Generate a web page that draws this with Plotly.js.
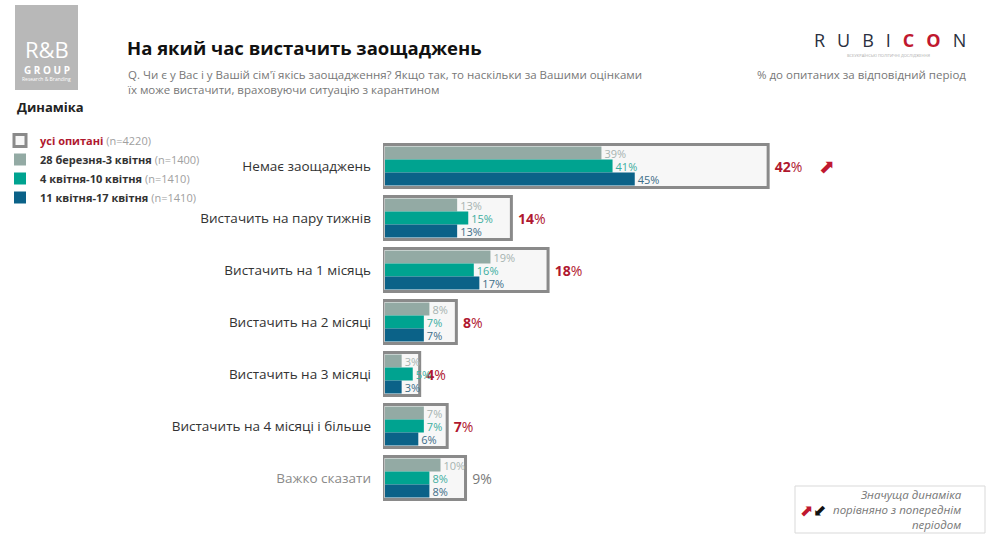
<!DOCTYPE html>
<html>
<head>
<meta charset="utf-8">
<script src="https://cdn.plot.ly/plotly-3.0.1.min.js"></script>
<style>html,body{margin:0;padding:0;background:#fff;}#chart{width:991px;height:536px;}</style>
</head>
<body>
<div id="chart"></div>
<script>
// ---- data ----
const categories = [
  "Немає заощаджень",
  "Вистачить на пару тижнів",
  "Вистачить на 1 місяць",
  "Вистачить на 2 місяці",
  "Вистачить на 3 місяці",
  "Вистачить на 4 місяці і більше",
  "Важко сказати"
];
const totalAll = [42, 14, 18, 8, 4, 7, 9];
const wave1 = [39, 13, 19, 8, 3, 7, 10];
const wave2 = [41, 15, 16, 7, 5, 7, 8];
const wave3 = [45, 13, 17, 7, 3, 6, 8];
const seriesNames = [
  "усі опитані",
  "28 березня-3 квітня",
  "4 квітня-10 квітня",
  "11 квітня-17 квітня"
];
const seriesN = ["(n=4220)", "(n=1400)", "(n=1410)", "(n=1410)"];

// ---- geometry helpers ----
const W = 991, H = 536;
const L = 383, R = 8, T = 140, B = 32;
const PW = W - L - R, PH = H - T - B;
const px = x => (x - L) / PW;
const py = y => 1 - (y - T) / PH;

const FONT = "Open Sans, Roboto, sans-serif";
const ARROWFONT = "DejaVu Sans, sans-serif";
const RED = "#b0182f";
const GREY = "#8a8a8a";
const colors = ["#93aaa4", "#00a390", "#0b6288"];
const labelColors = ["#a6b3b0", "#3cae9f", "#3d6d88"];

const totalText = totalAll.map((v, i) => i === categories.length - 1 ? "\u00a0" + v + "%" : "\u00a0<b>" + v + "</b>%");
const totalColors = totalAll.map((v, i) => i === categories.length - 1 ? "#7a7a7a" : RED);

const legendName = (i, c) => '<span style="color:' + c + '"><b>' + seriesNames[i] + '</b></span> <span style="color:#a0a0a0">' + seriesN[i] + '</span>';

const traces = [
  {
    type: "bar", orientation: "h", x: totalAll, y: categories, xaxis: "x", yaxis: "y",
    width: 0.83,
    marker: {color: "#f7f7f7", line: {color: GREY, width: 3}},
    text: totalText, textposition: "outside", constraintext: "none", cliponaxis: false,
    textfont: {family: FONT, size: 14, color: totalColors},
    name: legendName(0, RED), hoverinfo: "skip"
  }
];
[wave1, wave2, wave3].forEach((vals, k) => {
  traces.push({
    type: "bar", orientation: "h", x: vals, y: categories, xaxis: "x2", yaxis: "y",
    width: 0.25, offset: -0.375 + 0.25 * k,
    marker: {color: colors[k], line: {width: 0}},
    text: vals.map(v => v + "%"), textposition: "outside", constraintext: "none", cliponaxis: false,
    textfont: {family: FONT, size: 11, color: labelColors[k]},
    name: legendName(k + 1, "#333"), hoverinfo: "skip"
  });
});

const tickText = categories.map((c, i) => i === categories.length - 1 ? '<span style="color:#8a8a8a">' + c + '</span>' : c);

const sp = "\u2002\u2009";
const annotations = [
  {xref: "paper", yref: "paper", x: px(125), y: py(47), xanchor: "left", yanchor: "middle", showarrow: false,
   text: "<b>На який час вистачить заощаджень</b>", font: {family: FONT, size: 18.5, color: "#111"}},
  {xref: "paper", yref: "paper", x: px(125), y: py(65), xanchor: "left", yanchor: "top", showarrow: false, align: "left",
   text: "Q. Чи є у Вас і у Вашій сім'ї якісь заощадження? Якщо так, то наскільки за Вашими оцінками<br>їх може вистачити, враховуючи ситуацію з карантином",
   font: {family: FONT, size: 11.5, color: "#777"}},
  {xref: "paper", yref: "paper", x: px(968), y: py(75), xanchor: "right", yanchor: "middle", showarrow: false,
   text: "% до опитаних за відповідний період", font: {family: FONT, size: 11.5, color: "#777"}},
  {xref: "paper", yref: "paper", x: px(15), y: py(107), xanchor: "left", yanchor: "middle", showarrow: false,
   text: "<b>Динаміка</b>", font: {family: FONT, size: 13, color: "#222"}},
  // logo texts
  {xref: "paper", yref: "paper", x: px(46.5), y: py(49), xanchor: "center", yanchor: "middle", showarrow: false,
   text: "R&amp;B", font: {family: FONT, size: 22, color: "#fff"}},
  {xref: "paper", yref: "paper", x: px(46.5), y: py(70), xanchor: "center", yanchor: "middle", showarrow: false,
   text: "<b>G R O U P</b>", font: {family: FONT, size: 10, color: "#fff"}},
  {xref: "paper", yref: "paper", x: px(46.5), y: py(79.5), xanchor: "center", yanchor: "middle", showarrow: false,
   text: "Research &amp; Branding", font: {family: FONT, size: 5, color: "#fff"}},
  // RUBICON
  {xref: "paper", yref: "paper", x: px(890), y: py(40), xanchor: "center", yanchor: "middle", showarrow: false,
   text: 'R' + sp + 'U' + sp + 'B' + sp + 'I' + sp + '<span style="color:#c0182f"><b>C' + sp + 'O</b></span>' + sp + 'N',
   font: {family: FONT, size: 18, color: "#2a3040"}},
  {xref: "paper", yref: "paper", x: px(888), y: py(56), xanchor: "center", yanchor: "middle", showarrow: false,
   text: "ВСЕУКРАЇНСЬКІ ПОЛІТИЧНІ ДОСЛІДЖЕННЯ", font: {family: FONT, size: 4, color: "#aaa"}},
  // significant change arrow for row 1
  {xref: "paper", yref: "paper", x: px(827), y: py(166), xanchor: "center", yanchor: "middle", showarrow: false,
   text: "⬈", font: {family: ARROWFONT, size: 19, color: "#c0182f"}},
  // bottom-right note
  {xref: "paper", yref: "paper", x: px(964), y: py(509), xanchor: "right", yanchor: "middle", showarrow: false, align: "right",
   text: "<i>Значуща динаміка<br>порівняно з попереднім<br>періодом</i>", font: {family: FONT, size: 11.5, color: "#777"}},
  {xref: "paper", yref: "paper", x: px(806), y: py(510), xanchor: "center", yanchor: "middle", showarrow: false,
   text: "⬈", font: {family: ARROWFONT, size: 16, color: "#c0182f"}},
  {xref: "paper", yref: "paper", x: px(819), y: py(510), xanchor: "center", yanchor: "middle", showarrow: false,
   text: "⬋", font: {family: ARROWFONT, size: 16, color: "#111"}}
];

const shapes = [
  {type: "rect", xref: "paper", yref: "paper", x0: px(15), x1: px(78), y0: py(90), y1: py(5),
   fillcolor: "#b8b8b8", line: {width: 0}, layer: "below"},
  {type: "rect", xref: "paper", yref: "paper", x0: px(795), x1: px(985), y0: py(533), y1: py(486),
   fillcolor: "rgba(255,255,255,0)", line: {color: "#d9d9d9", width: 1}}
];

const layout = {
  width: W, height: H,
  margin: {l: L, r: R, t: T, b: B, pad: 0},
  paper_bgcolor: "#fff", plot_bgcolor: "rgba(0,0,0,0)",
  barmode: "overlay",
  font: {family: FONT, size: 12, color: "#333"},
  showlegend: true,
  legend: {xref: "container", yref: "container", x: 0.0, y: 1 - 126 / H, xanchor: "left", yanchor: "top",
           font: {family: FONT, size: 11, color: "#333"}, bgcolor: "rgba(0,0,0,0)", tracegroupgap: 0, traceorder: "normal"},
  xaxis: {range: [0, PW / 9.17], visible: false, fixedrange: true},
  xaxis2: {range: [-0.36, -0.36 + PW / 5.55], overlaying: "x", visible: false, fixedrange: true},
  yaxis: {type: "category", range: [6.5, -0.5], tickvals: categories, ticktext: tickText,
          showgrid: false, zeroline: false, showline: false, ticks: "", ticklabelstandoff: 11,
          tickfont: {family: FONT, size: 13.5, color: "#333"}},
  annotations: annotations,
  shapes: shapes
};

Plotly.newPlot("chart", traces, layout, {displayModeBar: false, staticPlot: true});
</script>
</body>
</html>
